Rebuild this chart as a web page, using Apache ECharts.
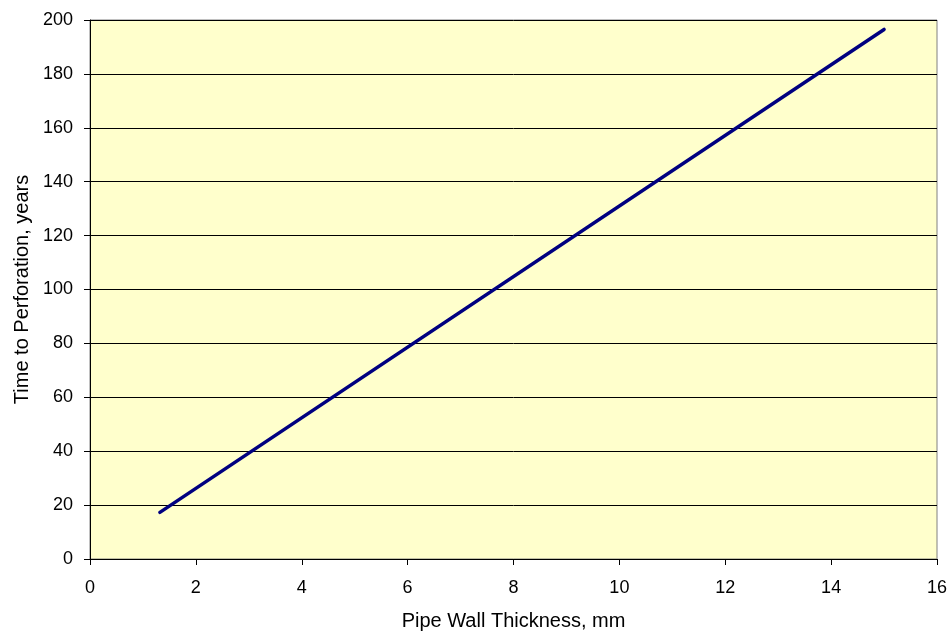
<!DOCTYPE html>
<html><head><meta charset="utf-8">
<script src="https://cdn.jsdelivr.net/npm/echarts@6/dist/echarts.min.js"></script>
<style>html,body{margin:0;padding:0;background:#fff}#c{width:951px;height:633px}</style>
</head><body><div id="c"></div>
<script>
const thickness = [1.32, 15.0];
const timeToPerforation = [17.3, 196.5];
const xTicks = [0, 2, 4, 6, 8, 10, 12, 14, 16];
const yTicks = [0, 20, 40, 60, 80, 100, 120, 140, 160, 180, 200];

const chart = echarts.init(document.getElementById('c'), null, {renderer: 'canvas'});
const font = 'Liberation Sans, Arial, sans-serif';
chart.setOption({
  animation: false,
  backgroundColor: '#ffffff',
  grid: {left: 90, top: 20, right: 14, bottom: 74, containLabel: false, outerBoundsMode: 'none',
         show: true, backgroundColor: '#FFFFCC', borderColor: '#808080', borderWidth: 1},
  xAxis: {
    type: 'value', min: xTicks[0], max: xTicks[xTicks.length-1], interval: 2,
    name: 'Pipe Wall Thickness, mm', nameLocation: 'middle', nameGap: 52,
    nameTextStyle: {fontFamily: font, fontSize: 20, color: '#000'},
    axisLine: {show: true, lineStyle: {color: '#000', width: 1}},
    axisTick: {show: true, length: 6, lineStyle: {color: '#000'}},
    axisLabel: {fontFamily: font, fontSize: 18, color: '#000', margin: 20},
    splitLine: {show: false}
  },
  yAxis: {
    type: 'value', min: yTicks[0], max: yTicks[yTicks.length-1], interval: 20,
    name: 'Time to Perforation, years', nameLocation: 'middle', nameGap: 58,
    nameTextStyle: {fontFamily: font, fontSize: 20, color: '#000'},
    axisLine: {show: true, lineStyle: {color: '#000', width: 1}},
    axisTick: {show: true, length: 6, lineStyle: {color: '#000'}},
    axisLabel: {fontFamily: font, fontSize: 18, color: '#000', margin: 17},
    splitLine: {show: true, lineStyle: {color: '#000', width: 1}}
  },
  series: [{
    type: 'line',
    data: thickness.map((x, i) => [x, timeToPerforation[i]]),
    showSymbol: false,
    lineStyle: {color: '#000080', width: 3.5, cap: 'round'},
    itemStyle: {color: '#000080'}
  }]
});
</script></body></html>
